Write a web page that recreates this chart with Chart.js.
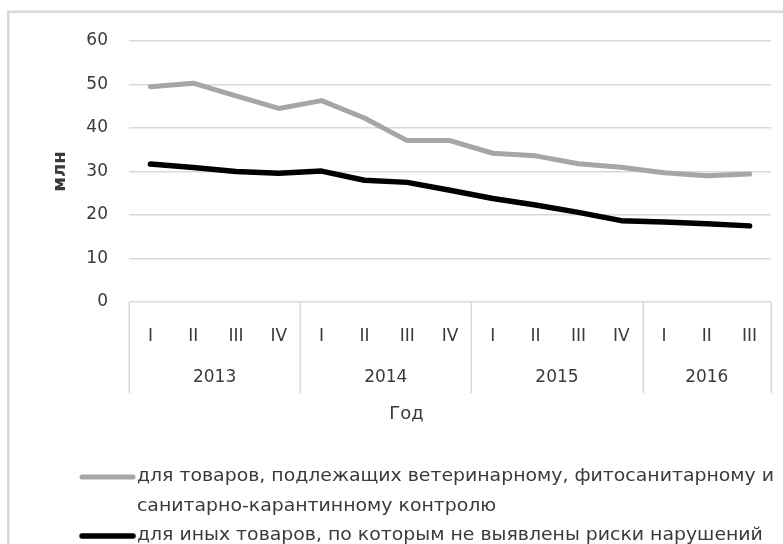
<!DOCTYPE html>
<html lang="ru">
<head>
<meta charset="utf-8">
<title>Время совершения таможенных операций</title>
<script src="https://cdn.jsdelivr.net/npm/chart.js@4/dist/chart.umd.min.js"></script>
<style>
  html, body { margin: 0; padding: 0; background: #fff; }
  #wrap { width: 783px; height: 544px; }
</style>
</head>
<body>
<div id="wrap"><canvas id="chart" width="783" height="544"></canvas></div>
<script>
// Кварталы по годам
const years = ['2013', '2014', '2015', '2016'];
const quarterNames = ['I', 'II', 'III', 'IV'];
const quartersPerYear = [4, 4, 4, 3];

// Время, млн (по кварталам)
const vetControl = [49.5, 50.3, 47.4, 44.5, 46.3, 42.3, 37.1, 37.1, 34.2, 33.6, 31.8, 31.0, 29.7, 29.0, 29.4];
const otherGoods = [31.7, 30.9, 30.0, 29.6, 30.1, 28.0, 27.5, 25.7, 23.8, 22.3, 20.6, 18.7, 18.4, 18.0, 17.5];

// Подписи рядов (строки легенды)
const seriesNames = [
  ['для товаров, подлежащих ветеринарному, фитосанитарному и', 'санитарно-карантинному контролю'],
  ['для иных товаров, по которым не выявлены риски нарушений']
];

const yTicks = [0, 10, 20, 30, 40, 50, 60];
const yTitle = 'млн';
const xTitle = 'Год';

const labels = [];
quartersPerYear.forEach(n => { for (let q = 0; q < n; q++) labels.push(quarterNames[q]); });

const FONT = "'DejaVu Sans', sans-serif";
const TEXT = '#3a3a3a';
const GRID = '#d9d9d9';

// Рамка вокруг диаграммы
const frame = {
  id: 'frame',
  beforeDraw(chart) {
    const ctx = chart.ctx;
    ctx.save();
    ctx.strokeStyle = GRID;
    ctx.lineWidth = 2.5;
    ctx.strokeRect(8.3, 11.7, chart.width + 20, chart.height + 20);
    ctx.restore();
  }
};

// Второй уровень оси X: разделители и подписи годов
const yearGroups = {
  id: 'yearGroups',
  afterDraw(chart) {
    const xs = chart.scales.x;
    const ctx = chart.ctx;
    ctx.save();
    ctx.strokeStyle = GRID;
    ctx.lineWidth = 1.5;
    ctx.fillStyle = TEXT;
    ctx.font = '17px ' + FONT;
    ctx.textAlign = 'center';
    ctx.textBaseline = 'middle';
    let start = 0;
    const drawSep = idx => {
      const x = Math.round(xs.getPixelForValue(idx - 0.5)) + 0.25;
      ctx.beginPath();
      ctx.moveTo(x, xs.top);
      ctx.lineTo(x, xs.bottom);
      ctx.stroke();
    };
    quartersPerYear.forEach((n, i) => {
      drawSep(start);
      const cx = xs.getPixelForValue(start + (n - 1) / 2);
      ctx.fillText(years[i], cx, xs.top + 76);
      start += n;
    });
    drawSep(start);
    ctx.restore();
  }
};

// Легенда под диаграммой (текст слегка растянут по горизонтали)
const bottomLegend = {
  id: 'bottomLegend',
  afterDraw(chart) {
    const ctx = chart.ctx;
    ctx.save();
    ctx.font = '17px ' + FONT;
    ctx.textBaseline = 'middle';
    ctx.textAlign = 'left';
    const rowH = 29.5;
    const stretch = 1.11;
    let y = 477;
    chart.data.datasets.forEach((ds, i) => {
      ctx.strokeStyle = ds.borderColor;
      ctx.lineWidth = ds.borderWidth;
      ctx.lineCap = 'round';
      ctx.beginPath();
      ctx.moveTo(82, y);
      ctx.lineTo(133, y);
      ctx.stroke();
      ctx.fillStyle = TEXT;
      seriesNames[i].forEach(line => {
        ctx.save();
        ctx.translate(137, y);
        ctx.scale(stretch, 1);
        ctx.fillText(line, 0, 0);
        ctx.restore();
        y += rowH;
      });
    });
    ctx.restore();
  }
};

new Chart(document.getElementById('chart'), {
  type: 'line',
  data: {
    labels: labels,
    datasets: [
      {
        label: seriesNames[0].join(' '),
        data: vetControl,
        borderColor: '#a6a6a6',
        backgroundColor: '#a6a6a6',
        borderWidth: 5,
        pointRadius: 0,
        tension: 0,
        borderCapStyle: 'round',
        borderJoinStyle: 'round'
      },
      {
        label: seriesNames[1].join(' '),
        data: otherGoods,
        borderColor: '#000000',
        backgroundColor: '#000000',
        borderWidth: 5.5,
        pointRadius: 0,
        tension: 0,
        borderCapStyle: 'round',
        borderJoinStyle: 'round'
      }
    ]
  },
  options: {
    responsive: false,
    animation: false,
    layout: { padding: { left: 42, right: 12, top: 41, bottom: 118.4 } },
    plugins: {
      legend: { display: false },
      tooltip: { enabled: false },
      title: {
        display: true,
        position: 'bottom',
        text: xTitle,
        color: TEXT,
        font: { family: FONT, size: 18, weight: 'normal', lineHeight: 1.2 },
        padding: { top: 11, bottom: 0 }
      }
    },
    scales: {
      x: {
        type: 'category',
        offset: true,
        grid: { display: false },
        border: { display: false },
        ticks: {
          color: TEXT,
          font: { family: FONT, size: 17 },
          padding: 16,
          maxRotation: 0,
          autoSkip: false
        },
        afterFit(s) { s.height = 91; }
      },
      y: {
        min: 0,
        max: 60,
        afterBuildTicks(s) { s.ticks = yTicks.map(v => ({ value: v })); },
        grid: { color: GRID, lineWidth: 1.5, drawTicks: false },
        border: { display: false },
        ticks: {
          color: TEXT,
          font: { family: FONT, size: 17 },
          padding: 21
        },
        title: {
          display: true,
          text: yTitle,
          color: TEXT,
          font: { family: FONT, size: 18, weight: 'bold', lineHeight: 1.2 },
          padding: { top: 8, bottom: 0 }
        },
        afterFit(s) { s.width = 87; }
      }
    }
  },
  plugins: [frame, yearGroups, bottomLegend]
});
</script>
</body>
</html>
